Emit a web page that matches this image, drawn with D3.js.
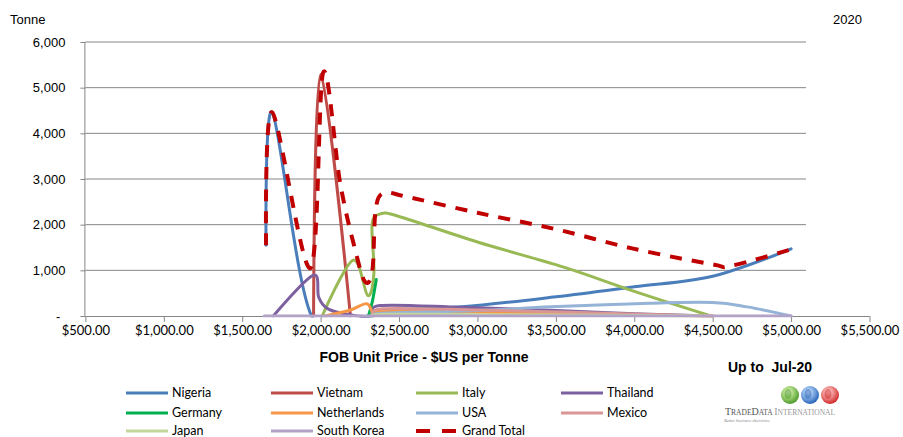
<!DOCTYPE html>
<html>
<head>
<meta charset="utf-8">
<script src="https://cdn.jsdelivr.net/npm/d3@7"></script>
<style>
  html, body { margin: 0; padding: 0; background: #fff; }
  svg { display: block; }
</style>
</head>
<body>
<svg id="chart" width="903" height="437"></svg>
<script>
// FOB unit price ($US per tonne) vs. tonnes, by origin country, 2020
const xTicks = [500, 1000, 1500, 2000, 2500, 3000, 3500, 4000, 4500, 5000, 5500];
const yTicks = [0, 1000, 2000, 3000, 4000, 5000, 6000];

const nigeria = [[1652,1550],[1692,4460],[1942,0],[2300,0],[2380,120],[2900,200],[3500,420],[4000,640],[4500,870],[5000,1470]];
const vietnam = [[1955,0],[2000,5290],[2190,0]];
const italy = [[2010,0],[2205,1220],[2300,450],[2340,950],[2328,2000],[2380,2235],[2500,2180],[3000,1620],[3550,1070],[4000,540],[4490,0]];
const thailand = [[1698,0],[1952,890],[1988,410],[2050,150],[2200,20],[2330,0],[2380,230],[2900,190],[3500,120],[4000,50],[4500,0]];
const germany = [[2305,0],[2330,320],[2355,800]];
const netherlands = [[2030,0],[2190,130],[2295,270],[2340,30],[2400,110],[3000,90],[3600,50],[4500,0]];
const usa = [[2330,0],[2400,60],[3000,120],[3470,200],[4100,280],[4500,295],[4720,200],[5000,0]];
const mexico = [[2340,0],[2400,160],[3000,130],[3600,80],[4200,20],[4500,0]];
const japan = [[2340,0],[2400,40],[3000,30],[4000,10],[4500,0]];
const southKorea = [[1640,0],[2500,0],[3500,0],[4500,0],[5000,0]];
const grandTotal = [[1652,1550],[1690,4460],[1935,1050],[2016,5330],[2125,2900],[2220,1450],[2283,750],[2330,1000],[2350,2300],[2400,2690],[2550,2610],[3000,2260],[3500,1900],[4000,1470],[4500,1130],[4620,1100],[5000,1460]];

const series = [
  { name: "Nigeria",     data: nigeria,     color: "#4A7EBB" },
  { name: "Vietnam",     data: vietnam,     color: "#BE4B48" },
  { name: "Italy",       data: italy,       color: "#98B954" },
  { name: "Thailand",    data: thailand,    color: "#7D60A0" },
  { name: "Germany",     data: germany,     color: "#00B050" },
  { name: "Netherlands", data: netherlands, color: "#F79646" },
  { name: "USA",         data: usa,         color: "#95B3D7" },
  { name: "Mexico",      data: mexico,      color: "#D99694" },
  { name: "Japan",       data: japan,       color: "#C3D69B" },
  { name: "South Korea", data: southKorea,  color: "#B3A2C7" },
  { name: "Grand Total", data: grandTotal,  color: "#C00000", dashed: true }
];

const svg = d3.select("#chart");
const plot = { left: 85.4, right: 869.5, top: 42, bottom: 316, gridRight: 806 };

const x = d3.scaleLinear().domain([500, 5500]).range([plot.left, plot.right]);
const y = d3.scaleLinear().domain([0, 6000]).range([plot.bottom, plot.top]);

const grey = "#868686";

// horizontal gridlines
svg.append("g").selectAll("line").data(yTicks.filter(d => d > 0)).join("line")
  .attr("x1", plot.left).attr("x2", plot.gridRight)
  .attr("y1", d => y(d)).attr("y2", d => y(d))
  .attr("stroke", grey).attr("stroke-width", 1);

// y axis
const yAxis = svg.append("g").attr("transform", `translate(${plot.left},0)`)
  .call(d3.axisLeft(y).tickValues(yTicks).tickSize(5).tickPadding(15)
    .tickFormat(d => d === 0 ? "-" : d3.format(",")(d)));
yAxis.select(".domain").attr("stroke", grey).attr("d", `M-0.5,${plot.bottom}V${plot.top}`);
yAxis.selectAll(".tick line").attr("stroke", grey);
yAxis.selectAll("text").attr("font-family", "'Liberation Sans', Arial, sans-serif")
  .attr("font-size", 13).attr("fill", "#000");
yAxis.selectAll(".tick").filter(d => d === 0).select("text").attr("x", -25);

// x axis
const xAxis = svg.append("g").attr("transform", `translate(0,${plot.bottom})`)
  .call(d3.axisBottom(x).tickValues(xTicks).tickSize(6).tickPadding(4)
    .tickFormat(d => "$" + d3.format(",.2f")(d)));
xAxis.select(".domain").attr("stroke", grey).attr("d", `M${plot.left},0.5H${plot.right}`);
xAxis.selectAll(".tick line").attr("stroke", grey);
xAxis.selectAll("text").attr("font-family", "Lato, 'Open Sans', sans-serif")
  .attr("font-size", 13).attr("fill", "#000");

// series lines
svg.append("clipPath").attr("id", "plotClip").append("rect")
  .attr("x", plot.left).attr("y", plot.top - 20)
  .attr("width", plot.right - plot.left).attr("height", plot.bottom - plot.top + 21.5);

const line = d3.line().x(d => x(d[0])).y(d => y(d[1])).curve(d3.curveCardinal.tension(0));

const lines = svg.append("g").attr("clip-path", "url(#plotClip)");
series.forEach(s => {
  lines.append("path").datum(s.data)
    .attr("d", line)
    .attr("fill", "none")
    .attr("stroke", s.color)
    .attr("stroke-width", s.dashed ? 4 : 3)
    .attr("stroke-linejoin", "round")
    .attr("stroke-linecap", s.dashed ? "butt" : "round")
    .attr("stroke-dasharray", s.dashed ? "12,10" : null);
});

// titles
const arial = "'Liberation Sans', Arial, sans-serif";
svg.append("text").attr("x", 10).attr("y", 24).text("Tonne")
  .attr("font-family", arial).attr("font-size", 13);
svg.append("text").attr("x", 833).attr("y", 24).text("2020")
  .attr("font-family", arial).attr("font-size", 13);
svg.append("text").attr("x", 424).attr("y", 362).attr("text-anchor", "middle")
  .text("FOB Unit Price - $US per Tonne")
  .attr("font-family", arial).attr("font-size", 14).attr("font-weight", "bold");
svg.append("text").attr("x", 728).attr("y", 372).attr("xml:space", "preserve")
  .text("Up to  Jul-20")
  .attr("font-family", arial).attr("font-size", 14).attr("font-weight", "bold");

// legend
const legendCols = [126, 271, 416, 561];
const legendRows = [393, 413, 431];
const legend = svg.append("g");
series.forEach((s, i) => {
  const col = i < 8 ? i % 4 : (i - 8);
  const row = i < 8 ? Math.floor(i / 4) : 2;
  const lx = legendCols[col], ly = legendRows[row];
  legend.append("line")
    .attr("x1", lx).attr("x2", lx + 42).attr("y1", ly).attr("y2", ly)
    .attr("stroke", s.color).attr("stroke-width", s.dashed ? 4 : 3)
    .attr("stroke-dasharray", s.dashed ? "14,12" : null);
  legend.append("text").attr("x", lx + 46).attr("y", ly + 4).text(s.name)
    .attr("font-family", "Lato, 'Open Sans', sans-serif").attr("font-size", 12.5).attr("fill", "#000");
});

// publisher mark
const defs = svg.append("defs");
const globes = [
  { cx: 790, c1: "#B6E08A", c2: "#4E9A2A" },
  { cx: 810, c1: "#9CC3F0", c2: "#2A63B8" },
  { cx: 830, c1: "#F6A3A3", c2: "#D02A2A" }
];
globes.forEach((g, i) => {
  const grad = defs.append("radialGradient").attr("id", "globe" + i)
    .attr("cx", "40%").attr("cy", "35%").attr("r", "65%");
  grad.append("stop").attr("offset", "0%").attr("stop-color", "#ffffff");
  grad.append("stop").attr("offset", "35%").attr("stop-color", g.c1);
  grad.append("stop").attr("offset", "100%").attr("stop-color", g.c2);
  svg.append("circle").attr("cx", g.cx).attr("cy", 395).attr("r", 9)
    .attr("fill", `url(#globe${i})`);
  svg.append("ellipse").attr("cx", g.cx - 2).attr("cy", 394).attr("rx", 3.5).attr("ry", 5)
    .attr("fill", g.c2).attr("opacity", 0.55);
});
const mark = svg.append("text").attr("x", 725).attr("y", 415)
  .attr("font-family", "'Liberation Serif', 'DejaVu Serif', serif").attr("font-size", 10);
mark.append("tspan").attr("fill", "#555").text("T").attr("font-size", 10);
mark.append("tspan").attr("fill", "#555").text("RADE").attr("font-size", 7.5);
mark.append("tspan").attr("fill", "#555").text("D").attr("font-size", 10);
mark.append("tspan").attr("fill", "#555").text("ATA ").attr("font-size", 7.5);
mark.append("tspan").attr("fill", "#999").text("I").attr("font-size", 10);
mark.append("tspan").attr("fill", "#999").text("NTERNATIONAL").attr("font-size", 7.5);
svg.append("text").attr("x", 724).attr("y", 422).text("Better business decisions.")
  .attr("font-family", "'Liberation Serif', serif").attr("font-style", "italic")
  .attr("font-size", 4.5).attr("fill", "#888");
</script>
</body>
</html>
